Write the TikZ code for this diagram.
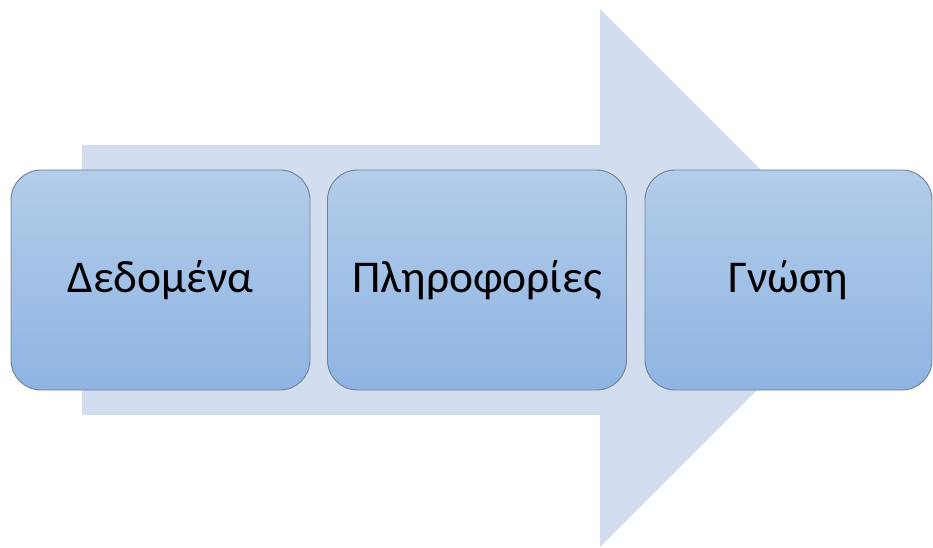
\documentclass[tikz,border=0pt]{standalone}
\usepackage{fontspec}
\setmainfont{Carlito}
\definecolor{arrowfill}{HTML}{D2DEEF}
\definecolor{boxtop}{HTML}{B3CDEA}
\definecolor{boxbot}{HTML}{8FB4E2}
\definecolor{boxline}{HTML}{6E7F96}
\tikzset{
  stagebox/.style={draw=boxline, line width=0.9pt, rounded corners=30pt,
    top color=boxtop, bottom color=boxbot, minimum width=299pt,
    minimum height=220pt, inner sep=0pt,
    font=\fontsize{45.5}{52}\selectfont, text=black},
}
\begin{document}
\begin{tikzpicture}[x=1pt,y=1pt]
\useasboundingbox (0,0) rectangle (933,547);
\fill[arrowfill] (82,402) -- (600,402) -- (600,538) -- (869,269) -- (600,0) -- (600,132) -- (82,132) -- cycle;
\node[stagebox] (d) at (160.5,267) {Δεδομένα};
\node[stagebox] (p) at (477,267) {Πληροφορίες};
\node[stagebox, minimum width=287pt] (g) at (788.5,267) {Γνώση};
\end{tikzpicture}
\end{document}
